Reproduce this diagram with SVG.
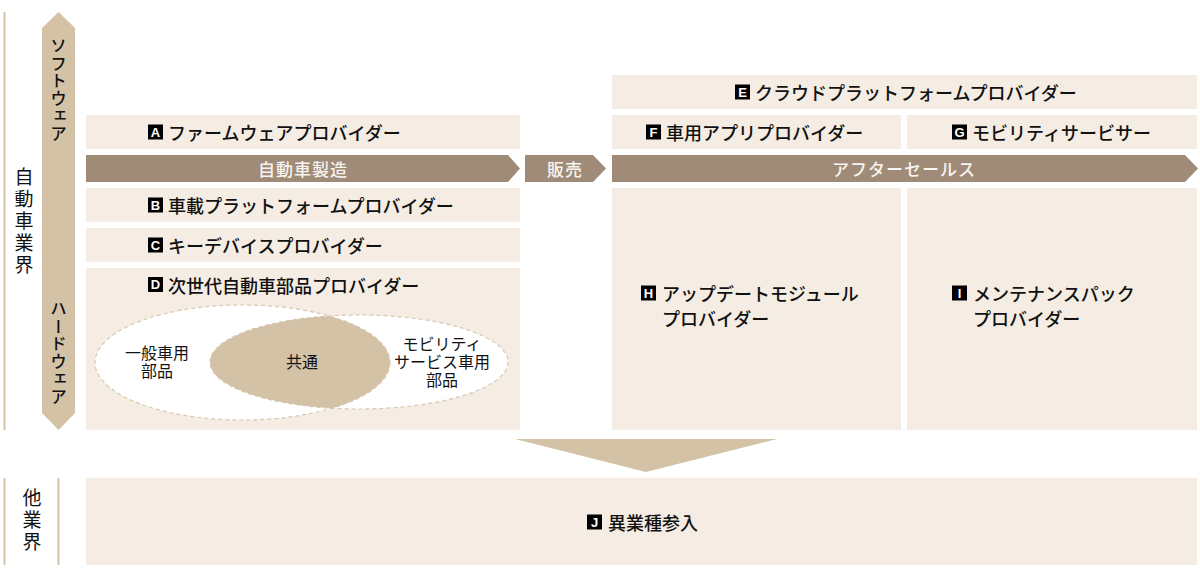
<svg xmlns="http://www.w3.org/2000/svg" width="1200" height="580" viewBox="0 0 1200 580">
<style>
.box{fill:#f5ece3}
.bar{fill:#9f8b78}
.tan{fill:#d3c2a6}
.rule{stroke:#d3c2a6;stroke-width:2;fill:none}
.lbl{font-family:"Noto Sans CJK JP",sans-serif;font-size:18px;font-weight:500;fill:#111;dominant-baseline:central}
.bt{font-family:"Noto Sans CJK JP",sans-serif;font-size:17px;font-weight:500;fill:#f8f4ef;letter-spacing:1px;dominant-baseline:central;text-anchor:middle}
.sm{font-family:"Noto Sans CJK JP",sans-serif;font-size:16px;fill:#111;dominant-baseline:central;text-anchor:middle}
.vt{font-family:"Noto Sans CJK JP",sans-serif;fill:#111;writing-mode:vertical-rl;text-anchor:middle}
.bg{fill:#000}
.bl{font-family:"Liberation Sans",Arial,sans-serif;font-size:13px;font-weight:700;fill:#fff;text-anchor:middle;dominant-baseline:central}
.dash{fill:none;stroke:#d8c8b0;stroke-width:1.2;stroke-dasharray:4 3}
</style>
<defs>
<clipPath id="clipL"><ellipse cx="242.5" cy="362.5" rx="147.5" ry="57.5"/></clipPath>
</defs>

<g id="axis-industry">
<line class="rule" x1="4.5" y1="12" x2="4.5" y2="430"/>
<text class="vt" x="24" y="222" style="font-size:19px;letter-spacing:3px">自動車業界</text>
</g>
<g id="axis-other">
<line class="rule" x1="4.5" y1="478" x2="4.5" y2="565"/>
<line class="rule" x1="58.5" y1="478" x2="58.5" y2="565"/>
<text class="vt" x="32" y="521" style="font-size:19px;letter-spacing:3px">他業界</text>
</g>

<g id="connectors">
<polygon class="tan" points="58.5,12 75,28 75,413 58.5,430 42,413 42,28"/>
<polygon class="tan" points="515,439 777,439 646,472"/>
</g>
<g id="axis-labels">
<text class="vt" x="58.5" y="90" style="font-size:16.5px;font-weight:500;letter-spacing:1px">ソフトウェア</text>
<text class="vt" x="58.5" y="353" style="font-size:16.5px;font-weight:500;letter-spacing:1px">ハードウェア</text>
</g>

<g id="nodeA">
<rect class="box" x="86" y="115" width="434" height="34"/>
<rect class="bg" x="148" y="124.5" width="15" height="15"/><text class="bl" x="155.5" y="132">A</text>
<text class="lbl" x="168" y="132">ファームウェアプロバイダー</text>
</g>
<g id="bar-manufacturing">
<polygon class="bar" points="86,155 508,155 520,168.5 508,182 86,182"/>
<text class="bt" x="303" y="168.5">自動車製造</text>
</g>
<g id="bar-sales">
<polygon class="bar" points="525,155 593,155 606,168.5 593,182 525,182"/>
<text class="bt" x="565" y="168.5">販売</text>
</g>
<g id="bar-aftersales">
<polygon class="bar" points="612,155 1185,155 1198,168.5 1185,182 612,182"/>
<text class="bt" x="904" y="168.5">アフターセールス</text>
</g>
<g id="nodeB">
<rect class="box" x="86" y="188" width="434" height="34"/>
<rect class="bg" x="148" y="197.5" width="15" height="15"/><text class="bl" x="155.5" y="205">B</text>
<text class="lbl" x="168" y="205">車載プラットフォームプロバイダー</text>
</g>
<g id="nodeC">
<rect class="box" x="86" y="228" width="434" height="34"/>
<rect class="bg" x="148" y="237.5" width="15" height="15"/><text class="bl" x="155.5" y="245">C</text>
<text class="lbl" x="168" y="245">キーデバイスプロバイダー</text>
</g>
<g id="nodeD">
<rect class="box" x="86" y="268" width="434" height="162"/>
<rect class="bg" x="148" y="277" width="15" height="15"/><text class="bl" x="155.5" y="284.5">D</text>
<text class="lbl" x="168" y="284.5">次世代自動車部品プロバイダー</text>
<ellipse cx="242.5" cy="362.5" rx="147.5" ry="57.5" fill="#fff"/>
<ellipse cx="359" cy="362" rx="149" ry="47" fill="#fff"/>
<ellipse class="dash" cx="242.5" cy="362.5" rx="147.5" ry="57.5"/>
<ellipse class="dash" cx="359" cy="362" rx="149" ry="47"/>
<ellipse class="tan" cx="359" cy="362" rx="149" ry="47" clip-path="url(#clipL)"/>
<text class="sm" x="157" y="352">一般車用<tspan x="157" dy="18">部品</tspan></text>
<text class="sm" x="302" y="361">共通</text>
<text class="sm" x="442" y="343">モビリティ<tspan x="442" dy="18">サービス車用</tspan><tspan x="442" dy="18">部品</tspan></text>
</g>
<g id="nodeE">
<rect class="box" x="612" y="75" width="585" height="34"/>
<rect class="bg" x="735" y="84.5" width="15" height="15"/><text class="bl" x="742.5" y="92">E</text>
<text class="lbl" x="755" y="92">クラウドプラットフォームプロバイダー</text>
</g>
<g id="nodeF">
<rect class="box" x="612" y="115" width="289" height="34"/>
<rect class="bg" x="646" y="124.5" width="15" height="15"/><text class="bl" x="653.5" y="132">F</text>
<text class="lbl" x="666" y="132">車用アプリプロバイダー</text>
</g>
<g id="nodeG">
<rect class="box" x="907" y="115" width="290" height="34"/>
<rect class="bg" x="952" y="124.5" width="15" height="15"/><text class="bl" x="959.5" y="132">G</text>
<text class="lbl" x="972" y="132">モビリティサービサー</text>
</g>
<g id="nodeH">
<rect class="box" x="612" y="188" width="289" height="242"/>
<rect class="bg" x="641" y="285.5" width="15" height="15"/><text class="bl" x="648.5" y="293">H</text>
<text class="lbl" x="662" y="293">アップデートモジュール<tspan x="662" dy="25">プロバイダー</tspan></text>
</g>
<g id="nodeI">
<rect class="box" x="907" y="188" width="290" height="242"/>
<rect class="bg" x="952" y="285.5" width="15" height="15"/><text class="bl" x="959.5" y="293">I</text>
<text class="lbl" x="973" y="293">メンテナンスパック<tspan x="973" dy="25">プロバイダー</tspan></text>
</g>
<g id="nodeJ">
<rect class="box" x="86" y="478" width="1111" height="87"/>
<rect class="bg" x="587" y="514.5" width="15" height="15"/><text class="bl" x="594.5" y="522">J</text>
<text class="lbl" x="608" y="522">異業種参入</text>
</g>
</svg>
